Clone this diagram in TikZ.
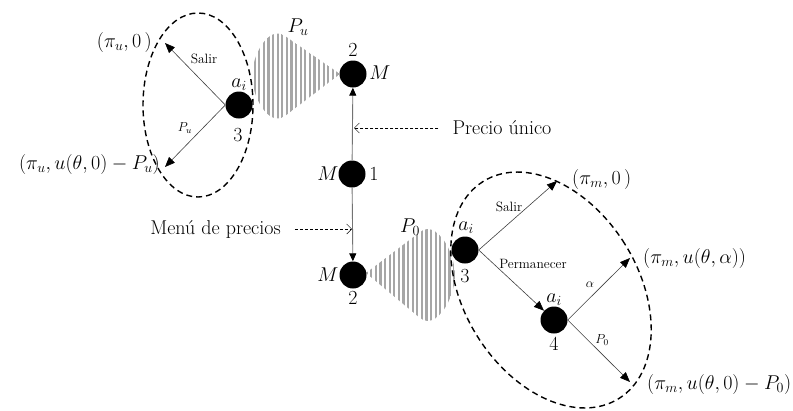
\documentclass[tikz,border=0pt]{standalone}
\usepackage{fix-cm}
\usetikzlibrary{arrows.meta}
\begin{document}
\begin{tikzpicture}[x=1pt,y=1pt,
  dot/.style={circle, fill=black, minimum size=27pt, inner sep=0pt},
  big/.style={font=\fontsize{20}{22}\selectfont, inner sep=0pt},
  small/.style={font=\fontsize{13.5}{15}\selectfont, inner sep=0pt},
  tiny/.style={font=\fontsize{13}{15}\selectfont, inner sep=0pt},
  arr/.style={draw=black!75, line width=0.6pt, -{Triangle[length=10pt,width=8pt,black]}},
  vert/.style={draw=black!55, line width=0.9pt, -{Triangle[length=8pt,width=7pt,black]}},
  pointer/.style={dash pattern=on 3pt off 2pt, line width=0.5pt, -{Straight Barb[length=5pt,width=10pt]}},
  ell/.style={dash pattern=on 6pt off 4pt, line width=1.4pt},
  stripe/.style={draw=gray!70, line width=2.2pt}]
\useasboundingbox (0,0) rectangle (793,-410);

% striped cones
\begin{scope}
\clip (340,-74) -- (285,-36) to[out=145,in=90] (252,-76) to[out=-90,in=-145] (285,-116) -- cycle;
\foreach \x in {250,254.6,...,346} \draw[stripe] (\x,-20) -- (\x,-130);
\end{scope}
\begin{scope}
\clip (366,-273) -- (420,-232) to[out=37,in=90] (455,-275) to[out=-90,in=-37] (420,-318) -- cycle;
\foreach \x in {362,366.6,...,460} \draw[stripe] (\x,-220) -- (\x,-330);
\end{scope}

% dashed ellipses
\draw[ell] (198,-105) ellipse [x radius=55pt, y radius=92pt];
\begin{scope}[rotate around={32:(551,-290)}]
\draw[ell] (551,-290) ellipse [x radius=87pt, y radius=128pt];
\end{scope}

% nodes
\node[dot] (n1) at (352,-174) {};
\node[dot] (t2) at (353,-74) {};
\node[dot] (b2) at (353,-275) {};
\node[dot] (l3) at (239,-105) {};
\node[dot] (r3) at (465,-250) {};
\node[dot] (n4) at (554,-320) {};

% node labels
\node[big] at (328,-174) {$M$};
\node[big] at (374,-174) {1};
\node[big] at (353,-50) {2};
\node[big] at (380,-73) {$M$};
\node[big] at (328,-275) {$M$};
\node[big] at (353,-298) {2};
\node[big] at (239,-85) {$a_i$};
\node[big] at (238,-135) {3};
\node[big] at (466,-228) {$a_i$};
\node[big] at (465,-276) {3};
\node[big] at (554,-300) {$a_i$};
\node[big] at (554,-344) {4};
\node[big] at (298,-27) {$P_u$};
\node[big] at (410,-227) {$P_0$};

% outcomes
\node[big, anchor=east] (lu1) at (152,-42) {$(\pi_u,0\,)$};
\node[big, anchor=east] (lu2) at (160,-164) {$(\pi_u,u(\theta,0)-P_u)$};
\node[big, anchor=west] (rm1) at (572,-179) {$(\pi_m,0\,)$};
\node[big, anchor=west] (rm2) at (643,-258) {$(\pi_m,u(\theta,\alpha))$};
\node[big, anchor=west] (rm3) at (647,-384) {$(\pi_m,u(\theta,0)-P_0)$};

\coordinate (eu1) at (165,-43);
\coordinate (eu2) at (165,-167);
\coordinate (em1) at (557,-181);
\coordinate (em2) at (630,-258);
\coordinate (em3) at (630,-382);

% arrows
\draw[arr] (l3.west) -- (eu1);
\draw[arr] (l3.west) -- (eu2);
\draw[arr] (r3.east) -- (em1);
\draw[arr] (r3.east) -- (n4);
\draw[arr] (n4.east) -- (em2);
\draw[arr] (n4.east) -- (em3);
\draw[vert] (n1) -- (t2);
\draw[vert] (n1) -- (b2);

% arrow labels
\node[small] at (204,-59) {Salir};
\node[tiny] at (185,-128) {$P_u$};
\node[small] at (509,-207) {Salir};
\node[small] at (533,-264) {Permanecer};
\node[tiny] at (590,-285) {$\alpha$};
\node[tiny] at (602,-340) {$P_0$};

% pointers
\node[big] (pu) at (502,-128) {Precio único};
\coordinate (pue) at (354,-128);
\draw[pointer, shorten <=14pt] (pu.west) -- (pue);
\node[big] (mp) at (215.5,-229) {Menú de precios};
\coordinate (mpe) at (352,-229);
\draw[pointer, shorten <=14pt] (mp.east) -- (mpe);
\end{tikzpicture}
\end{document}
